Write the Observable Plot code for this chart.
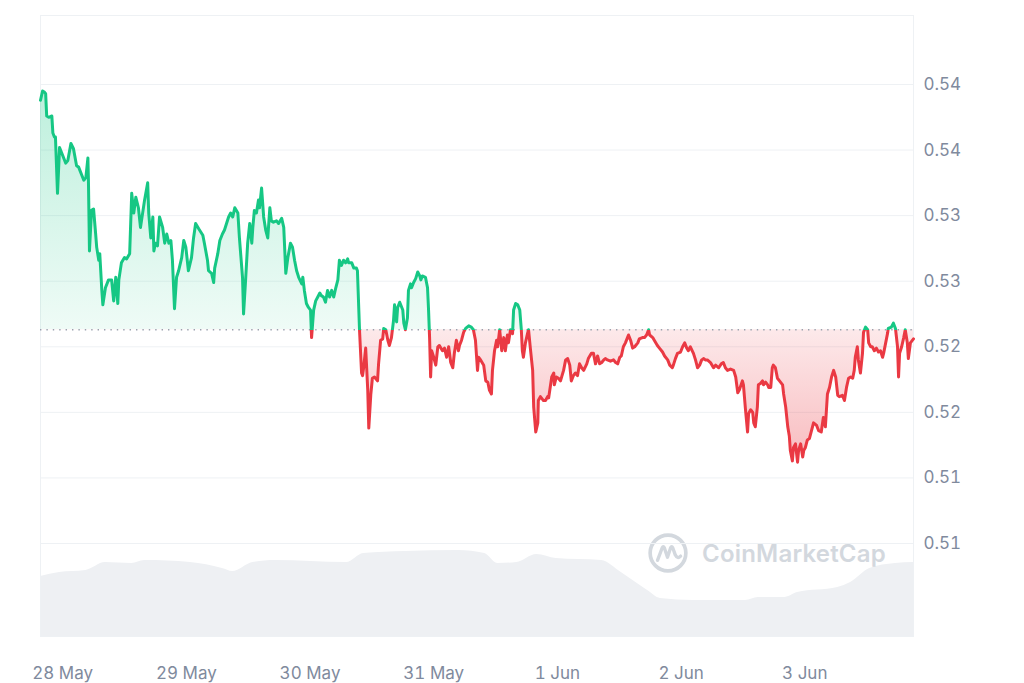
<!DOCTYPE html>
<html>
<head>
<meta charset="utf-8">
<script src="https://cdn.jsdelivr.net/npm/d3@7"></script>
<script src="https://cdn.jsdelivr.net/npm/@observablehq/plot@0.6"></script>
<style>
  html, body { margin: 0; padding: 0; background: #ffffff; }
  #wrap { position: relative; width: 1024px; height: 683px; overflow: hidden; font-family: Inter, "Noto Sans", sans-serif; }
  .layer { position: absolute; left: 0; top: 0; }
  #wm { position: absolute; left: 647px; top: 532px; height: 42px; display: flex; align-items: center; gap: 13px; color: #d3d8de; font-size: 24px; font-weight: 600; letter-spacing: 0.2px; }
</style>
</head>
<body>
<div id="wrap">
  <div id="vol" class="layer"></div>
  <div id="wm">
    <svg width="42" height="42" viewBox="0 0 40 40">
      <circle cx="20" cy="20" r="17" fill="none" stroke="#d3d8de" stroke-width="3.5"/>
      <path d="M10,27 L14.5,15 Q15.5,13 16.5,15 L19.5,24 L22.5,15 Q23.5,13 24.5,15 L27,22 Q29,26 32,23" fill="none" stroke="#d3d8de" stroke-width="3.2" stroke-linecap="round" stroke-linejoin="round"/>
    </svg>
    <span>CoinMarketCap</span>
  </div>
  <div id="price" class="layer"></div>
</div>
<script>
// Hours since 28 May 00:00
const times = [
-4.3,-3.9,-3.5,-3.3,-3.1,-2.7,-2.1,-1.9,-1.6,-1.4,
-1.0,-0.6,-0.2,0.6,1.0,1.6,2.1,2.7,3.1,3.7,
4.1,4.5,4.9,5.0,5.2,5.6,6.0,6.4,6.6,7.0,
7.2,7.6,7.8,8.3,8.9,9.5,9.9,10.3,10.7,10.9,
11.4,12.0,12.4,13.0,13.4,13.8,14.2,14.7,15.1,15.9,
16.5,16.7,17.1,17.5,17.7,18.0,18.4,18.8,19.4,19.8,
20.2,20.6,21.0,21.3,21.7,22.1,22.5,23.1,23.5,23.9,
24.4,25.0,25.4,25.8,26.4,27.2,27.5,28.1,28.3,28.9,
29.3,29.5,30.1,30.5,31.0,31.4,31.8,32.2,32.6,33.0,
33.4,34.0,34.3,34.9,35.1,35.5,35.9,36.3,36.7,36.9,
37.2,37.6,38.0,38.2,38.6,39.0,39.4,39.8,40.2,40.5,
40.9,41.5,41.9,42.5,42.9,43.3,43.7,44.2,44.6,45.0,
45.4,45.8,46.4,46.6,46.9,47.3,47.7,48.1,48.3,48.7,
49.1,49.5,49.9,50.2,50.6,51.0,51.4,51.8,52.2,52.6,
53.0,53.4,53.7,54.1,54.5,54.9,55.3,55.5,56.1,56.5,
57.0,57.2,57.6,58.0,58.2,58.4,58.8,59.2,59.4,59.8,
60.1,60.5,61.1,61.3,61.7,62.1,62.3,62.7,63.1,63.4,
63.8,64.2,64.4,64.8,65.0,65.4,66.0,66.2,66.5,66.9,
67.1,67.5,67.7,68.1,68.5,68.9,69.3,69.5,69.8,70.4,
70.8,71.0,71.2,71.4,71.6,72.0,72.4,72.8,73.1,73.7,
74.1,74.5,74.9,75.3,75.7,76.0,76.4,76.8,77.0,77.4,
77.8,78.2,78.8,79.3,79.7,80.1,80.5,80.7,81.1,81.7,
82.1,82.5,82.8,83.2,83.4,83.8,84.2,84.4,84.8,85.2,
85.6,85.9,86.3,86.5,86.9,87.3,87.5,87.9,88.3,88.7,
89.0,89.2,89.4,89.8,90.2,90.4,90.8,91.2,91.4,91.8,
92.2,92.3,92.7,93.3,93.7,94.1,94.3,94.9,95.3,95.4,
95.8,96.2,96.6,97.2,97.6,98.0,98.4,98.7,99.1,99.5,
99.9,100.3,100.7,101.1,101.7,102.0,102.6,103.0,103.4,103.8,
104.2,104.6,105.0,105.3,105.7,106.3,106.9,107.3,107.7,108.1,
108.4,108.8,109.2,109.6,109.8,110.2,110.6,111.0,111.6,111.9,
112.5,112.9,113.3,113.7,113.9,114.5,114.8,115.4,115.8,116.4,
116.8,117.4,117.8,118.3,118.5,118.9,119.3,119.9,120.3,120.7,
121.1,121.4,121.8,122.4,122.8,123.2,123.6,124.0,124.4,124.7,
125.1,125.7,126.3,126.7,127.3,127.8,128.2,128.6,129.0,129.6,
130.2,130.6,131.0,131.3,131.9,132.1,132.5,132.9,133.1,133.5,
133.9,134.1,134.4,134.8,135.0,135.4,135.8,136.0,136.4,136.8,
137.0,137.4,137.7,137.9,138.3,138.7,139.1,139.7,139.9,140.3,
140.7,141.0,141.2,141.6,141.8,142.2,142.6,142.8,143.2,143.6,
143.8,144.1,144.5,144.9,145.5,145.7,146.3,146.7,147.2,147.6,
148.0,148.4,148.8,149.2,149.6,150.0,150.4,150.7,151.3,151.7,
152.1,152.5,152.9,153.3,153.6,153.8,154.2,154.4,154.8,155.2,
155.4,155.8,156.2,156.4,156.8,157.1,157.5,157.9,158.3,158.7,
159.1,159.3,159.7,160.1,160.2,160.8,161.2,161.6,162.0,162.2,
162.4,162.8,163.2,163.5,163.9,164.1,164.5,165.1
];
const prices = [
0.5388,0.5395,0.5394,0.5393,0.5376,0.5375,0.5376,0.5363,0.5360,0.5360,
0.5317,0.5352,0.5348,0.5340,0.5342,0.5355,0.5351,0.5338,0.5337,0.5331,
0.5327,0.5329,0.5344,0.5327,0.5273,0.5304,0.5305,0.5286,0.5276,0.5266,
0.5271,0.5243,0.5232,0.5245,0.5251,0.5251,0.5235,0.5253,0.5233,0.5251,
0.5264,0.5268,0.5267,0.5271,0.5317,0.5302,0.5314,0.5306,0.5291,0.5312,
0.5325,0.5302,0.5283,0.5299,0.5273,0.5279,0.5277,0.5299,0.5291,0.5279,
0.5286,0.5279,0.5281,0.5266,0.5229,0.5253,0.5258,0.5268,0.5281,0.5276,
0.5258,0.5268,0.5283,0.5294,0.5290,0.5285,0.5279,0.5266,0.5258,0.5256,
0.5249,0.5260,0.5271,0.5281,0.5286,0.5289,0.5294,0.5299,0.5302,0.5299,
0.5306,0.5302,0.5283,0.5253,0.5225,0.5251,0.5279,0.5294,0.5279,0.5291,
0.5304,0.5302,0.5312,0.5306,0.5321,0.5299,0.5289,0.5283,0.5306,0.5296,
0.5295,0.5296,0.5294,0.5298,0.5291,0.5256,0.5268,0.5279,0.5276,0.5266,
0.5258,0.5253,0.5248,0.5253,0.5243,0.5233,0.5230,0.5228,0.5207,0.5228,
0.5235,0.5238,0.5241,0.5239,0.5238,0.5234,0.5243,0.5238,0.5243,0.5238,
0.5245,0.5251,0.5266,0.5262,0.5266,0.5264,0.5267,0.5264,0.5264,0.5260,
0.5260,0.5258,0.5213,0.5180,0.5178,0.5184,0.5199,0.5167,0.5138,0.5164,
0.5176,0.5177,0.5174,0.5187,0.5205,0.5206,0.5214,0.5213,0.5205,0.5201,
0.5207,0.5220,0.5232,0.5219,0.5230,0.5234,0.5228,0.5218,0.5213,0.5222,
0.5243,0.5248,0.5245,0.5249,0.5252,0.5257,0.5254,0.5251,0.5254,0.5253,
0.5245,0.5228,0.5207,0.5177,0.5197,0.5192,0.5186,0.5200,0.5201,0.5197,
0.5199,0.5192,0.5200,0.5188,0.5184,0.5195,0.5205,0.5197,0.5201,0.5205,
0.5211,0.5214,0.5216,0.5215,0.5213,0.5205,0.5182,0.5192,0.5190,0.5186,
0.5174,0.5173,0.5167,0.5164,0.5182,0.5197,0.5205,0.5200,0.5213,0.5197,
0.5207,0.5197,0.5209,0.5203,0.5213,0.5210,0.5228,0.5233,0.5232,0.5228,
0.5213,0.5197,0.5192,0.5203,0.5210,0.5213,0.5197,0.5182,0.5154,0.5135,
0.5142,0.5159,0.5162,0.5159,0.5159,0.5162,0.5161,0.5177,0.5180,0.5171,
0.5177,0.5176,0.5174,0.5182,0.5190,0.5191,0.5186,0.5174,0.5178,0.5180,
0.5178,0.5187,0.5184,0.5182,0.5187,0.5191,0.5195,0.5195,0.5187,0.5193,
0.5187,0.5188,0.5190,0.5191,0.5190,0.5189,0.5190,0.5188,0.5187,0.5192,
0.5193,0.5200,0.5203,0.5207,0.5209,0.5205,0.5199,0.5200,0.5203,0.5206,
0.5207,0.5207,0.5209,0.5213,0.5209,0.5207,0.5205,0.5201,0.5199,0.5196,
0.5193,0.5190,0.5186,0.5184,0.5186,0.5191,0.5195,0.5196,0.5200,0.5203,
0.5199,0.5197,0.5200,0.5195,0.5190,0.5184,0.5186,0.5190,0.5191,0.5190,
0.5190,0.5188,0.5184,0.5186,0.5184,0.5187,0.5188,0.5184,0.5182,0.5183,
0.5182,0.5177,0.5165,0.5167,0.5174,0.5171,0.5152,0.5135,0.5149,0.5152,
0.5150,0.5142,0.5139,0.5154,0.5171,0.5172,0.5174,0.5171,0.5173,0.5171,
0.5169,0.5169,0.5184,0.5186,0.5184,0.5176,0.5174,0.5171,0.5164,0.5154,
0.5139,0.5132,0.5121,0.5113,0.5123,0.5126,0.5112,0.5121,0.5126,0.5116,
0.5121,0.5123,0.5129,0.5130,0.5139,0.5142,0.5140,0.5136,0.5135,0.5146,
0.5139,0.5164,0.5169,0.5177,0.5182,0.5177,0.5163,0.5162,0.5163,0.5159,
0.5169,0.5176,0.5177,0.5176,0.5182,0.5192,0.5200,0.5190,0.5180,0.5195,
0.5211,0.5215,0.5213,0.5203,0.5200,0.5200,0.5197,0.5199,0.5196,0.5197,
0.5192,0.5195,0.5203,0.5211,0.5214,0.5215,0.5218,0.5214,0.5200,0.5177,
0.5195,0.5200,0.5207,0.5213,0.5203,0.5191,0.5203,0.5206
];
const basePrice = 0.5213;

// Volume (relative units) along the bottom
const volTimes = [-4.3,-0.6,4.5,8.3,13.4,15.9,24.8,31.0,33.0,36.9,41.3,55.1,58.4,66.5,76.8,81.9,84.4,88.1,92.0,95.8,104.6,108.4,113.5,116.0,122.4,132.5,135.0,140.1,142.6,150.4,152.9,156.6,161.6,165.1];
const volumes  = [30,32,33,37,36.5,38,37,34,32.5,37,38,37,41.5,42.5,43,41.5,36.5,37,41,39,38,32,23,19,18,18,19.5,19.5,22,24.5,27,34,36.5,37];

const yTicks  = [0.505, 0.51, 0.515, 0.52, 0.525, 0.53, 0.535, 0.54];
const yLabels = ["0.51", "0.51", "0.52", "0.52", "0.53", "0.53", "0.54", "0.54"];
const xTicks  = [0, 24, 48, 72, 96, 120, 144];
const xLabels = ["28 May", "29 May", "30 May", "31 May", "1 Jun", "2 Jun", "3 Jun"];

const green = "#16c784";
const red = "#ea3943";

const data = times.map((t, i) => ({t, p: prices[i]}));
const vdata = volTimes.map((t, i) => ({t, v: volumes[i]}));
const xDomain = [times[0], times[times.length - 1]];

const W = 1024, H = 683;
const common = {width: W, height: H, marginTop: 15, marginBottom: 47, marginLeft: 40, marginRight: 111};

const volChart = Plot.plot({
  ...common,
  marginTop: 436,
  style: {background: "transparent"},
  x: {domain: xDomain, axis: null},
  y: {domain: [0, 100], axis: null},
  marks: [
    Plot.areaY(vdata, {x: "t", y: "v", fill: "#eef0f3", curve: "monotone-x"})
  ]
});
document.getElementById("vol").appendChild(volChart);

const priceChart = Plot.plot({
  ...common,
  style: {background: "transparent", fontFamily: "Inter, 'Noto Sans', sans-serif", fontSize: "17px", color: "#808a9d"},
  x: {domain: xDomain, ticks: xTicks, tickFormat: d => xLabels[xTicks.indexOf(d)], tickSize: 0, tickPadding: 30, label: null},
  y: {domain: [0.49791, 0.54526], axis: "right", ticks: yTicks, tickFormat: d => yLabels[yTicks.indexOf(d)], tickSize: 0, tickPadding: 10, label: null},
  marks: [
    Plot.frame({stroke: "#eef1f4"}),
    Plot.ruleY(yTicks, {stroke: "#eef1f4", strokeWidth: 1}),
    Plot.areaY(data, {x: "t", y1: basePrice, y2: "p", fill: "url(#areaGrad)"}),
    Plot.ruleY([basePrice], {stroke: "#9aa2ae", strokeWidth: 1.4, strokeDasharray: "1.4,5"}),
    Plot.line(data, {x: "t", y: "p", stroke: "url(#lineGrad)", strokeWidth: 3, strokeLinejoin: "round"})
  ]
});
document.getElementById("price").appendChild(priceChart);

// gradients positioned with the chart's own y scale
const svg = priceChart.tagName.toLowerCase() === "svg" ? priceChart : priceChart.querySelector("svg");
const yS = priceChart.scale("y");
const yTop = yS.apply(d3.max(prices));
const yBot = yS.apply(d3.min(prices));
const yBase = yS.apply(basePrice);
const off = (yBase - yTop) / (yBot - yTop);
const defs = d3.select(svg).insert("defs", ":first-child");
const ag = defs.append("linearGradient").attr("id", "areaGrad").attr("gradientUnits", "userSpaceOnUse")
  .attr("x1", 0).attr("x2", 0).attr("y1", yTop).attr("y2", yBot);
[[0, green, 0.28], [off, green, 0.07], [off, red, 0.11], [1, red, 0.34]].forEach(([o, c, a]) =>
  ag.append("stop").attr("offset", o).attr("stop-color", c).attr("stop-opacity", a));
const lg = defs.append("linearGradient").attr("id", "lineGrad").attr("gradientUnits", "userSpaceOnUse")
  .attr("x1", 0).attr("x2", 0).attr("y1", yTop).attr("y2", yBot);
[[0, green], [off, green], [off, red], [1, red]].forEach(([o, c]) =>
  lg.append("stop").attr("offset", o).attr("stop-color", c));
</script>
</body>
</html>
